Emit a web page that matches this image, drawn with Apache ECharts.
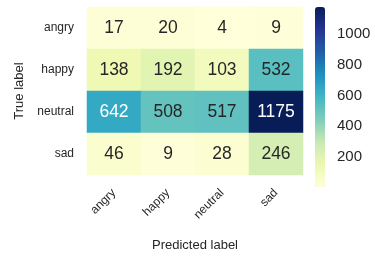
<!DOCTYPE html>
<html>
<head>
<meta charset="utf-8">
<script src="https://cdn.jsdelivr.net/npm/echarts@6/dist/echarts.min.js"></script>
<style>
  html, body { margin: 0; padding: 0; background: #fff; }
  #chart { width: 375px; height: 257px; }
</style>
</head>
<body>
<div id="chart"></div>
<script>
const predictedLabels = ['angry', 'happy', 'neutral', 'sad'];
const trueLabels = ['angry', 'happy', 'neutral', 'sad'];
// rows = true label, columns = predicted label
const matrix = [
  [17, 20, 4, 9],
  [138, 192, 103, 532],
  [642, 508, 517, 1175],
  [46, 9, 28, 246]
];
const colorbarTicks = [200, 400, 600, 800, 1000];
const ylgnbu = ['#ffffd9', '#edf8b1', '#c7e9b4', '#7fcdbb', '#41b6c4', '#1d91c0', '#225ea8', '#253494', '#081d58'];

const flat = matrix.flat();
const vmin = Math.min(...flat);
const vmax = Math.max(...flat);
const font = 'Liberation Sans, Arial, sans-serif';
const textColor = '#262626';

const cells = [];
matrix.forEach((row, i) => {
  row.forEach((v, j) => {
    cells.push({
      value: [j, i, v],
      label: { color: v > 600 ? '#ffffff' : textColor }
    });
  });
});

const chart = echarts.init(document.getElementById('chart'));
chart.setOption({
  backgroundColor: '#fff',
  animation: false,
  textStyle: { fontFamily: font },
  grid: [
    { left: 87, top: 7, width: 216, height: 180 },
    { left: 315, top: 7, width: 10, height: 180 }
  ],
  xAxis: [{
    gridIndex: 0,
    type: 'category',
    data: predictedLabels,
    name: 'Predicted label',
    nameLocation: 'middle',
    nameGap: 64,
    nameTextStyle: { fontSize: 13, color: textColor, fontFamily: font },
    axisLine: { show: false },
    axisTick: { show: false },
    splitLine: { show: false },
    axisLabel: { rotate: 45, margin: 16, fontSize: 12, color: textColor, fontFamily: font }
  }, {
    gridIndex: 1,
    type: 'category',
    data: [''],
    show: false
  }],
  yAxis: [{
    gridIndex: 0,
    type: 'category',
    data: trueLabels,
    inverse: true,
    name: 'True label',
    nameLocation: 'middle',
    nameGap: 57,
    nameRotate: 90,
    nameTextStyle: { fontSize: 13, color: textColor, fontFamily: font },
    axisLine: { show: false },
    axisTick: { show: false },
    splitLine: { show: false },
    axisLabel: { margin: 13, fontSize: 12, color: textColor, fontFamily: font }
  }, {
    gridIndex: 1,
    type: 'value',
    position: 'right',
    min: vmin,
    max: vmax,
    axisLine: { show: false },
    axisTick: { show: false },
    splitLine: { show: false },
    axisLabel: {
      customValues: colorbarTicks,
      formatter: v => String(v),
      margin: 12,
      fontSize: 15,
      color: textColor,
      fontFamily: font
    }
  }],
  visualMap: {
    type: 'continuous',
    min: vmin,
    max: vmax,
    calculable: false,
    orient: 'vertical',
    left: 315,
    top: 7,
    padding: 0,
    itemWidth: 10,
    itemHeight: 180,
    seriesIndex: 0,
    inRange: { color: ylgnbu }
  },
  series: [{
    type: 'heatmap',
    xAxisIndex: 0,
    yAxisIndex: 0,
    data: cells,
    label: {
      show: true,
      fontSize: 17.5,
      fontFamily: font,
      formatter: p => p.value[2]
    },
    emphasis: { disabled: true }
  }]
});
</script>
</body>
</html>
